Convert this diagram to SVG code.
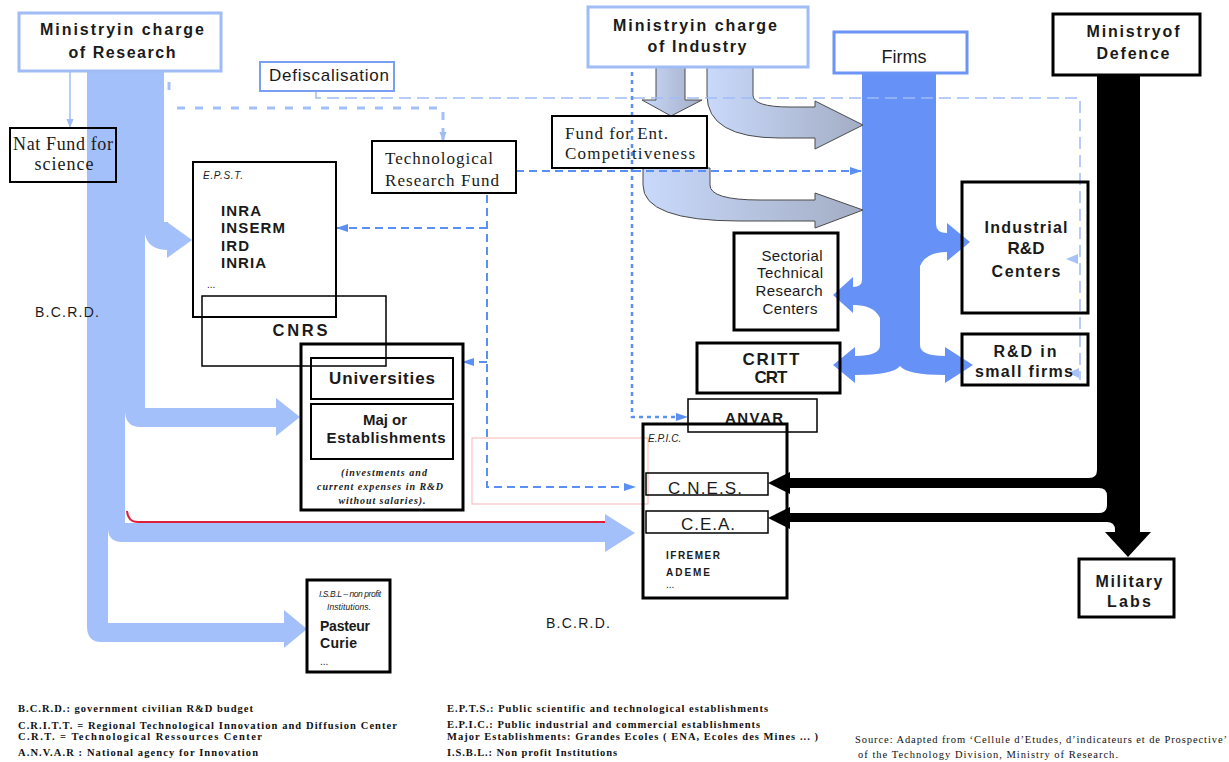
<svg xmlns="http://www.w3.org/2000/svg" width="1229" height="762" viewBox="0 0 1229 762">
<style>
.bg{fill:#ffffff}
.lt{fill:#a4c0fb}
.md{fill:#6692f7}
.bk{fill:#000}
.gr{fill:url(#gG);stroke:#4a4a4a;stroke-width:1}
.box{fill:none;stroke:#000;stroke-width:3}
.box2{fill:none;stroke:#000;stroke-width:2}
.box1{fill:none;stroke:#000;stroke-width:1.5}
.lbox{fill:none;stroke:#a0bcf7;stroke-width:3}
.fbox{fill:none;stroke:#6a94f5;stroke-width:3}
.dbox{fill:none;stroke:#7a9ff2;stroke-width:2}
.sans{font-family:"Liberation Sans",Arial,sans-serif;fill:#1a1a1a}
.serif{font-family:"Liberation Serif","Times New Roman",serif;fill:#1a1a1a}
.b{font-weight:bold}
.i{font-style:italic}
.c{text-anchor:middle}
.dash1{fill:none;stroke:#5c8ff3;stroke-width:2;stroke-dasharray:8 5}
.dash2{fill:none;stroke:#5c8ff3;stroke-width:2.5;stroke-dasharray:4 4}
.dash3{fill:none;stroke:#a0bcf7;stroke-width:1.5;stroke-dasharray:12 6}
.dash4{fill:none;stroke:#a4c0fb;stroke-width:3;stroke-dasharray:8 10}
.leg{font-family:"Liberation Serif","Times New Roman",serif;font-size:10.5px;font-weight:bold;fill:#111}
.src{font-family:"Liberation Serif","Times New Roman",serif;font-size:10.5px;fill:#111}
</style>
<defs>
<linearGradient id="gG" x1="0" y1="0" x2="1" y2="0">
<stop offset="0" stop-color="#c9d9fb"/>
<stop offset="1" stop-color="#a3adc4"/>
</linearGradient>
<marker id="mB" viewBox="0 0 12 10" refX="11" refY="5" markerWidth="12" markerHeight="10" markerUnits="userSpaceOnUse" orient="auto">
<path d="M0,1 L12,5 L0,9 Z" fill="#5c8ff3"/>
</marker>
<marker id="mL" viewBox="0 0 10 10" refX="9" refY="5" markerWidth="10" markerHeight="9" markerUnits="userSpaceOnUse" orient="auto">
<path d="M0,1 L10,5 L0,9 Z" fill="#a0bcf7"/>
</marker>
</defs>
<rect class="bg" x="0" y="0" width="1229" height="762"/>

<g id="connectors">
<g id="research-flow">
<rect class="lt" x="87" y="72" width="77" height="160"/>
<path class="lt" d="M145,222 H168 V250 Q148,250 145,234 Z"/>
<polygon class="lt" points="167,222 192,240 167,258"/>
<rect class="lt" x="87" y="231" width="58" height="170"/>
<path class="lt" d="M125,398 H145 V408 H276 V398 L300,417 L276,436 V427 H140 Q126,427 125,412 Z"/>
<rect class="lt" x="87" y="400" width="38" height="112"/>
<path class="lt" d="M108,505 H125 V523 H605 V514 L635,533 L605,552 V542 H122 Q109,542 108,530 Z"/>
<rect class="lt" x="87" y="510" width="21" height="112"/>
<path class="lt" d="M87,600 H108 V623 H284 V610 L307,629 L284,648 V642 H101 Q87,642 87,626 Z"/>
</g>
<path d="M127,511 Q128,522 138,522 H605" fill="none" stroke="#e0203a" stroke-width="2"/>
<g id="firms-flow">
<rect class="md" x="862" y="73" width="74" height="153"/>
<path class="md" d="M920,224 H936 Q936,233 947,233 V223 L970,242 L947,261 V252 Q926,252 920,266 Z"/>
<rect class="md" x="862" y="224" width="58" height="60"/>
<path class="md" d="M880,280 H862 Q862,287 853,287 V277 L833,295 L853,313 V305 Q874,305 880,318 Z"/>
<rect class="md" x="880" y="282" width="40" height="70"/>
<path class="md" d="M880,345 Q880,356 855,356 V347 L833,365 L855,383 V375 Q893,375 900,366 Q907,375 945,375 V383 L973,365 L945,347 V356 Q920,356 920,345 Z"/>
</g>
<g id="defence-flow">
<rect class="bk" x="1097" y="75" width="43" height="405"/>
<rect class="bk" x="1107" y="478" width="33" height="35"/>
<rect class="bk" x="1115" y="510" width="25" height="24"/>
<path class="bk" d="M1097,470 Q1097,478 1089,478 H790 V472 L768,483 L790,494 V488 H1099 Q1107,488 1107,496 V470 Z"/>
<path class="bk" d="M1107,505 Q1107,513 1099,513 H790 V507 L768,518 L790,529 V522 H1107 Q1115,522 1115,530 V505 Z"/>
<polygon class="bk" points="1105,532 1151,532 1128,557"/>
</g>
<polygon class="gr" points="656,67 685,67 685,100 702,100 671,116 642,100 656,100"/>
<path class="gr" d="M707,67 H753 V95 Q753,107 790,107 H815 V101 L863,125 L815,149 V138 H780 Q707,138 707,95 Z"/>
<path class="gr" d="M643,168 H710 V185 Q710,200 760,200 H815 V193 L863,210 L815,228 V221 H740 Q643,221 643,185 Z"/>
<line x1="70" y1="72" x2="70" y2="127" stroke="#a0bcf7" stroke-width="1.5" marker-end="url(#mL)"/>
<path class="dash4" d="M169,82 V93"/>
<path class="dash4" d="M177,108 H443 V130"/>
<line x1="443" y1="128" x2="443" y2="140" stroke="#a4c0fb" stroke-width="3" marker-end="url(#mL)"/>
<path class="dash3" d="M316,91 V98 H1080 V380"/>
<polygon points="1066,259 1078,254 1078,264" fill="#a8c2f8"/>
<polygon points="1068,373 1079,368 1079,378" fill="#a8c2f8"/>
<path class="dash1" d="M516,171 H861" marker-end="url(#mB)"/>
<path class="dash1" d="M487,195 V487 H635" marker-end="url(#mB)"/>
<path class="dash1" d="M487,228 H337" marker-end="url(#mB)"/>
<path class="dash1" d="M487,362 H463" marker-end="url(#mB)"/>
<path class="dash2" d="M632,72 V417 H687" marker-end="url(#mB)"/>
<rect x="472" y="438" width="176" height="66" fill="none" stroke="#f5b5b5" stroke-width="1"/>
</g>

<g id="ministry-research">
<rect class="lbox" x="19" y="13" width="202" height="58"/>
<text class="sans b c" x="122" y="35" font-size="16" textLength="164">Ministryin charge</text>
<text class="sans b c" x="122" y="58" font-size="16" textLength="107">of Research</text>
</g>
<g id="nat-fund">
<rect class="box2" x="10" y="128" width="106" height="54"/>
<text class="serif c" x="63" y="150" font-size="18" textLength="100">Nat Fund for</text>
<text class="serif c" x="64" y="170" font-size="18" textLength="59">science</text>
</g>
<g id="defiscalisation">
<rect class="dbox" x="260" y="62" width="134" height="29"/>
<text class="sans c" x="329" y="81" font-size="17" textLength="120">Defiscalisation</text>
</g>
<g id="tech-fund">
<rect class="box2" x="372" y="141" width="144" height="52"/>
<text class="serif" x="385" y="164" font-size="17" textLength="108">Technological</text>
<text class="serif" x="385" y="186" font-size="17" textLength="114">Research Fund</text>
</g>
<g id="ministry-industry">
<rect class="lbox" x="588" y="7" width="220" height="60"/>
<text class="sans b c" x="695" y="31" font-size="16" textLength="164">Ministryin charge</text>
<text class="sans b c" x="697" y="52" font-size="16" textLength="99">of Industry</text>
</g>
<g id="fund-ent">
<rect class="box2" x="552" y="116" width="155" height="52"/>
<text class="serif" x="565" y="139" font-size="17" textLength="103">Fund for Ent.</text>
<text class="serif" x="565" y="159" font-size="17" textLength="130">Competitiveness</text>
</g>
<g id="firms">
<rect class="fbox" x="834" y="32" width="133" height="41"/>
<text class="sans c" x="904" y="63" font-size="18">Firms</text>
</g>
<g id="ministry-defence">
<rect class="box" x="1053" y="14" width="147" height="61"/>
<text class="sans b c" x="1133" y="37" font-size="16" textLength="93">Ministryof</text>
<text class="sans b c" x="1133" y="59" font-size="16" textLength="73">Defence</text>
</g>
<g id="epst">
<rect class="box2" x="193" y="162" width="143" height="155"/>
<text class="sans i" x="203" y="179" font-size="10" textLength="40" fill="#444">E.P.S.T.</text>
<text class="sans b" x="221" y="216" font-size="15" textLength="40">INRA</text>
<text class="sans b" x="221" y="233" font-size="15" textLength="64">INSERM</text>
<text class="sans b" x="221" y="251" font-size="15" textLength="28">IRD</text>
<text class="sans b" x="221" y="268" font-size="15" textLength="45">INRIA</text>
<text class="sans" x="207" y="288" font-size="10">...</text>
</g>
<g id="cnrs">
<rect class="box1" x="202" y="296" width="184" height="70"/>
<text class="sans c" x="300" y="336" font-size="16.5" textLength="55" font-weight="600">CNRS</text>
</g>
<g id="universities">
<rect class="box" x="301" y="344" width="162" height="166"/>
<rect class="box2" x="311" y="358" width="142" height="41"/>
<text class="sans b c" x="382" y="384" font-size="17" textLength="106">Universities</text>
<rect class="box2" x="311" y="404" width="142" height="55"/>
<text class="sans b c" x="385" y="425" font-size="15" textLength="44">Maj or</text>
<text class="sans b c" x="386" y="443" font-size="15" textLength="119">Establishments</text>
<text class="serif i b c" x="384" y="476" font-size="10" textLength="86">(investments and</text>
<text class="serif i b c" x="380" y="490" font-size="10" textLength="126">current expenses in R&amp;D</text>
<text class="serif i b c" x="382" y="504" font-size="10" textLength="87">without salaries).</text>
</g>
<g id="isbl">
<rect class="box" x="307" y="580" width="83" height="92"/>
<text class="sans i c" x="350" y="597" font-size="8.5" textLength="62">I.S.B.L – non profit</text>
<text class="sans i c" x="349" y="610" font-size="8.5" textLength="44">Institutions.</text>
<text class="sans b" x="320" y="631" font-size="14" textLength="50">Pasteur</text>
<text class="sans b" x="320" y="648" font-size="14" textLength="37">Curie</text>
<text class="sans" x="320" y="665" font-size="10">...</text>
</g>
<g id="sectorial">
<rect class="box" x="734" y="233" width="104" height="97"/>
<text class="sans c" x="792" y="261" font-size="15" textLength="61">Sectorial</text>
<text class="sans c" x="790" y="278" font-size="15" textLength="66">Technical</text>
<text class="sans c" x="789" y="296" font-size="15" textLength="67">Research</text>
<text class="sans c" x="790" y="314" font-size="15" textLength="55">Centers</text>
</g>
<g id="critt">
<rect class="box" x="697" y="343" width="143" height="50"/>
<text class="sans c" x="771" y="365" font-size="17" textLength="57" font-weight="600">CRITT</text>
<text class="sans c" x="771" y="383" font-size="17" textLength="33" font-weight="600">CRT</text>
</g>
<g id="anvar">
<rect class="box1" x="688" y="399" width="129" height="33"/>
<text class="sans b c" x="754" y="423" font-size="15" textLength="58">ANVAR</text>
</g>
<g id="epic">
<rect class="box" x="643" y="424" width="144" height="174"/>
<text class="sans i" x="648" y="442" font-size="10" fill="#444">E.P.I.C.</text>
<rect class="box1" x="646" y="473" width="122" height="22"/>
<text class="sans c" x="705" y="494" font-size="17" textLength="74">C.N.E.S.</text>
<rect class="box1" x="646" y="511" width="122" height="22"/>
<text class="sans c" x="708" y="530" font-size="17" textLength="54">C.E.A.</text>
<text class="sans b" x="666" y="559" font-size="10" textLength="54">IFREMER</text>
<text class="sans b" x="666" y="576" font-size="10" textLength="44">ADEME</text>
<text class="sans" x="666" y="588" font-size="10">...</text>
</g>
<g id="industrial-rd">
<rect class="box" x="962" y="182" width="126" height="131"/>
<text class="sans b c" x="1026" y="233" font-size="16" textLength="83">Industrial</text>
<text class="sans b c" x="1026" y="254" font-size="17">R&amp;D</text>
<text class="sans b c" x="1026" y="277" font-size="16" textLength="69">Centers</text>
</g>
<g id="rd-small">
<rect class="box" x="962" y="334" width="126" height="51"/>
<text class="sans b c" x="1025" y="357" font-size="16" textLength="63">R&amp;D in</text>
<text class="sans b c" x="1024" y="377" font-size="16" textLength="98">small firms</text>
</g>
<g id="military-labs">
<rect class="box" x="1079" y="559" width="95" height="58"/>
<text class="sans b c" x="1129" y="587" font-size="16" textLength="67">Military</text>
<text class="sans b c" x="1129" y="607" font-size="16" textLength="44">Labs</text>
</g>
<g id="labels">
<text class="sans" x="35" y="317" font-size="14" textLength="64">B.C.R.D.</text>
<text class="sans" x="546" y="628" font-size="14" textLength="64">B.C.R.D.</text>
</g>
<g id="legend">
<text class="leg" x="18" y="712" textLength="235">B.C.R.D.: government civilian R&amp;D budget</text>
<text class="leg" x="18" y="729" textLength="379">C.R.I.T.T. = Regional Technological Innovation and Diffusion Center</text>
<text class="leg" x="18" y="740" textLength="244">C.R.T. = Technological Ressources Center</text>
<text class="leg" x="18" y="756" textLength="240">A.N.V.A.R : National agency for Innovation</text>
<text class="leg" x="447" y="712" textLength="321">E.P.T.S.: Public scientific and technological establishments</text>
<text class="leg" x="447" y="728" textLength="313">E.P.I.C.: Public industrial and commercial establishments</text>
<text class="leg" x="447" y="740" textLength="371">Major Establishments: Grandes Ecoles ( ENA, Ecoles des Mines ... )</text>
<text class="leg" x="447" y="756" textLength="170">I.S.B.L.: Non profit Institutions</text>
<text class="src" x="855" y="743" textLength="372">Source: Adapted from ‘Cellule d’Etudes, d’indicateurs et de Prospective’</text>
<text class="src" x="858" y="758" textLength="260">of the Technology Division, Ministry of Research.</text>
</g>
</svg>
